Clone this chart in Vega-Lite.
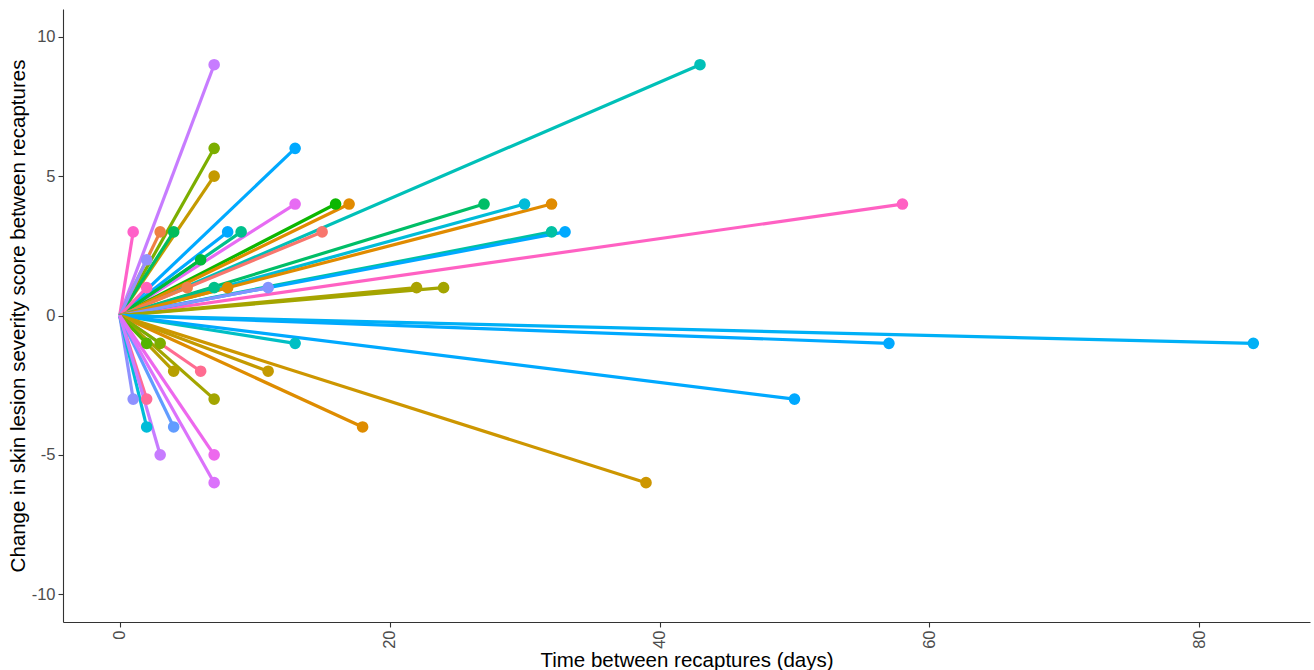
{
  "$schema": "https://vega.github.io/schema/vega-lite/v6.json",
  "width": 1247,
  "height": 613,
  "autosize": "none",
  "padding": {"left": 63, "top": 9, "right": 4, "bottom": 48},
  "background": "white",
  "config": {
    "view": {"stroke": null},
    "font": "Liberation Sans",
    "axis": {
      "grid": false,
      "domainColor": "#333333",
      "domainWidth": 1.1,
      "tickColor": "#333333",
      "tickSize": 5,
      "tickWidth": 1.1,
      "labelColor": "#4D4D4D",
      "labelFontSize": 16.5,
      "labelFont": "Liberation Sans",
      "titleFont": "Liberation Sans",
      "titleFontSize": 20.5,
      "titleFontWeight": "normal",
      "titleColor": "#000000"
    }
  },
  "data": {
    "values": [
      {"id": "s01", "days": 7, "change": 9, "col": "#C77CFF"},
      {"id": "s02", "days": 43, "change": 9, "col": "#00C0B8"},
      {"id": "s03", "days": 7, "change": 6, "col": "#7CAE00"},
      {"id": "s04", "days": 7, "change": 5, "col": "#C49A00"},
      {"id": "s05", "days": 13, "change": 6, "col": "#00A9FF"},
      {"id": "s06", "days": 13, "change": 4, "col": "#E76BF3"},
      {"id": "s07", "days": 16, "change": 4, "col": "#0CB702"},
      {"id": "s08", "days": 17, "change": 4, "col": "#E18A00"},
      {"id": "s09", "days": 27, "change": 4, "col": "#00BE67"},
      {"id": "s10", "days": 30, "change": 4, "col": "#00BCD8"},
      {"id": "s11", "days": 32, "change": 4, "col": "#E08B00"},
      {"id": "s12", "days": 58, "change": 4, "col": "#FF61C3"},
      {"id": "s13", "days": 1, "change": 3, "col": "#FF61C9"},
      {"id": "s14", "days": 3, "change": 3, "col": "#EE8044"},
      {"id": "s15", "days": 4, "change": 3, "col": "#00BD5C"},
      {"id": "s16", "days": 8, "change": 3, "col": "#00A9FF"},
      {"id": "s17", "days": 9, "change": 3, "col": "#00C08B"},
      {"id": "s18", "days": 15, "change": 3, "col": "#F8766D"},
      {"id": "s19", "days": 32, "change": 3, "col": "#00C1A3"},
      {"id": "s20", "days": 33, "change": 3, "col": "#00A9FF"},
      {"id": "s21", "days": 2, "change": 2, "col": "#9590FF"},
      {"id": "s22", "days": 6, "change": 2, "col": "#00BA38"},
      {"id": "s23", "days": 2, "change": 1, "col": "#FF62BC"},
      {"id": "s24", "days": 5, "change": 1, "col": "#EF7F4D"},
      {"id": "s25", "days": 7, "change": 1, "col": "#00C08B"},
      {"id": "s26", "days": 8, "change": 1, "col": "#DE8C00"},
      {"id": "s27", "days": 11, "change": 1, "col": "#8494FF"},
      {"id": "s28", "days": 22, "change": 1, "col": "#ABA300"},
      {"id": "s29", "days": 24, "change": 1, "col": "#A3A500"},
      {"id": "s30", "days": 13, "change": -1, "col": "#00BFC4"},
      {"id": "s31", "days": 57, "change": -1, "col": "#00A9FF"},
      {"id": "s32", "days": 84, "change": -1, "col": "#00B0F6"},
      {"id": "s33", "days": 50, "change": -3, "col": "#00A9FF"},
      {"id": "s34", "days": 39, "change": -6, "col": "#CD9600"},
      {"id": "s35", "days": 18, "change": -4, "col": "#DE8C00"},
      {"id": "s36", "days": 11, "change": -2, "col": "#C49A00"},
      {"id": "s37", "days": 6, "change": -2, "col": "#FF6C91"},
      {"id": "s38", "days": 4, "change": -2, "col": "#B79F00"},
      {"id": "s39", "days": 7, "change": -3, "col": "#A3A500"},
      {"id": "s40", "days": 2, "change": -1, "col": "#53B400"},
      {"id": "s41", "days": 3, "change": -1, "col": "#7CAE00"},
      {"id": "s42", "days": 1, "change": -3, "col": "#8F91FF"},
      {"id": "s43", "days": 2, "change": -3, "col": "#FF6A98"},
      {"id": "s44", "days": 2, "change": -4, "col": "#00BCD8"},
      {"id": "s45", "days": 4, "change": -4, "col": "#619CFF"},
      {"id": "s46", "days": 3, "change": -5, "col": "#C77CFF"},
      {"id": "s47", "days": 7, "change": -5, "col": "#ED68ED"},
      {"id": "s48", "days": 7, "change": -6, "col": "#DB72FB"}
    ]
  },
  "encoding": {
    "x": {
      "field": "days",
      "type": "quantitative",
      "scale": {"domain": [-4.2, 88.2], "nice": false, "zero": false},
      "axis": {"values": [0, 20, 40, 60, 80], "labelAngle": 270, "labelAlign": "right", "labelBaseline": "middle", "labelPadding": 3, "title": "Time between recaptures (days)", "titlePadding": 2}
    },
    "y": {
      "field": "change",
      "type": "quantitative",
      "scale": {"domain": [-11, 11], "nice": false},
      "axis": {"values": [-10, -5, 0, 5, 10], "labelExpr": "toString(datum.value)", "labelPadding": 3, "title": "Change in skin lesion severity score between recaptures", "titlePadding": 3}
    },
    "color": {"field": "col", "type": "nominal", "scale": null, "legend": null}
  },
  "layer": [
    {
      "mark": {"type": "rule", "strokeWidth": 3.2, "strokeCap": "butt"},
      "encoding": {
        "x2": {"datum": 0},
        "y2": {"datum": 0},
        "detail": {"field": "id"}
      }
    },
    {
      "mark": {"type": "point", "filled": true, "opacity": 1, "size": 135},
      "encoding": {"detail": {"field": "id"}}
    }
  ]
}
